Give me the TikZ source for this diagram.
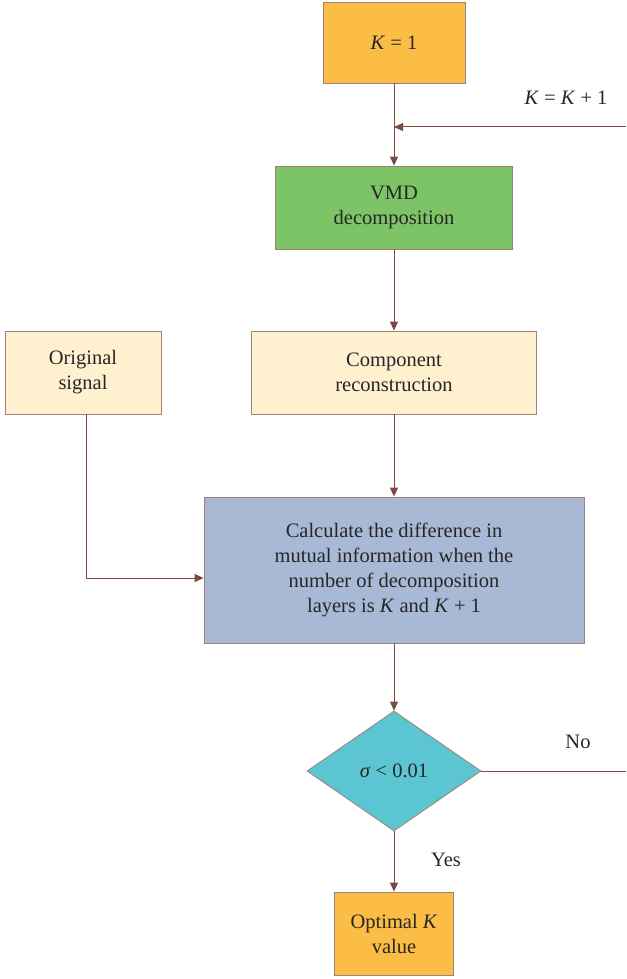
\documentclass[tikz,border=0pt]{standalone}
\usepackage{fontspec}
\setmainfont{Liberation Serif}
\usetikzlibrary{arrows.meta,shapes.geometric}
\definecolor{bord}{HTML}{A08078}
\definecolor{arr}{HTML}{7B4A40}
\definecolor{orng}{HTML}{FBBD45}
\definecolor{grn}{HTML}{7DC466}
\definecolor{cream}{HTML}{FFF0D0}
\definecolor{blu}{HTML}{A8B9D6}
\definecolor{cyn}{HTML}{5BC6D2}
\begin{document}
\begin{tikzpicture}[x=1pt,y=-1pt,
  box/.style={draw=bord,line width=0.8pt,rectangle,align=center,inner sep=0pt,font=\fontsize{20.5}{25}\selectfont,text=black!85},
  con/.style={draw=arr,line width=1pt,-{Triangle[length=9pt,width=8pt]}},
  lin/.style={draw=arr,line width=1pt},
  lab/.style={font=\fontsize{20.5}{25}\selectfont,text=black!85}]
\useasboundingbox (0,0) rectangle (626,979);
\node[box,fill=orng,minimum width=142pt,minimum height=81pt] (k1) at (394,42.5) {\textit{K} = 1};
\node[box,fill=grn,minimum width=237pt,minimum height=83pt] (vmd) at (394,207.5) {VMD\\decomposition};
\node[box,fill=cream,minimum width=156pt,minimum height=83pt] (orig) at (83,372.5) {Original\\signal};
\node[box,fill=cream,minimum width=285pt,minimum height=83pt] (comp) at (394,372.5) {Component\\reconstruction};
\node[box,fill=blu,minimum width=380pt,minimum height=146pt] (calc) at (394,570) {Calculate the difference in\\mutual information when the\\number of decomposition\\layers is \textit{K} and \textit{K} + 1};
\node[draw=bord,line width=0.8pt,diamond,fill=cyn,minimum width=174pt,minimum height=120pt,inner sep=0pt,font=\fontsize{20.5}{25}\selectfont,text=black!85] (dec) at (394,771) {\textit{σ} < 0.01};
\node[box,fill=orng,minimum width=119pt,minimum height=83pt] (opt) at (394,933.5) {Optimal \textit{K}\\value};
\coordinate (rin) at (626,127);
\coordinate (junc) at (394,127);
\coordinate (rout) at (626,771);
\coordinate (bend) at (86,578);
\draw[con] (k1.south) -- (vmd.north);
\draw[con] (rin) -- (junc);
\draw[con] (vmd.south) -- (comp.north);
\draw[con] (comp.south) -- (calc.north);
\draw[lin] (orig.south -| bend) -- (bend);
\draw[con] (bend) -- (calc.west |- bend);
\draw[con] (calc.south) -- (dec.north);
\draw[con] (dec.south) -- (opt.north);
\draw[lin] (dec.east) -- (rout);
\node[lab] (kk) at (566,98) {\textit{K} = \textit{K} + 1};
\node[lab] (yes) at (446,860) {Yes};
\node[lab] (no) at (578,742) {No};
\end{tikzpicture}
\end{document}
